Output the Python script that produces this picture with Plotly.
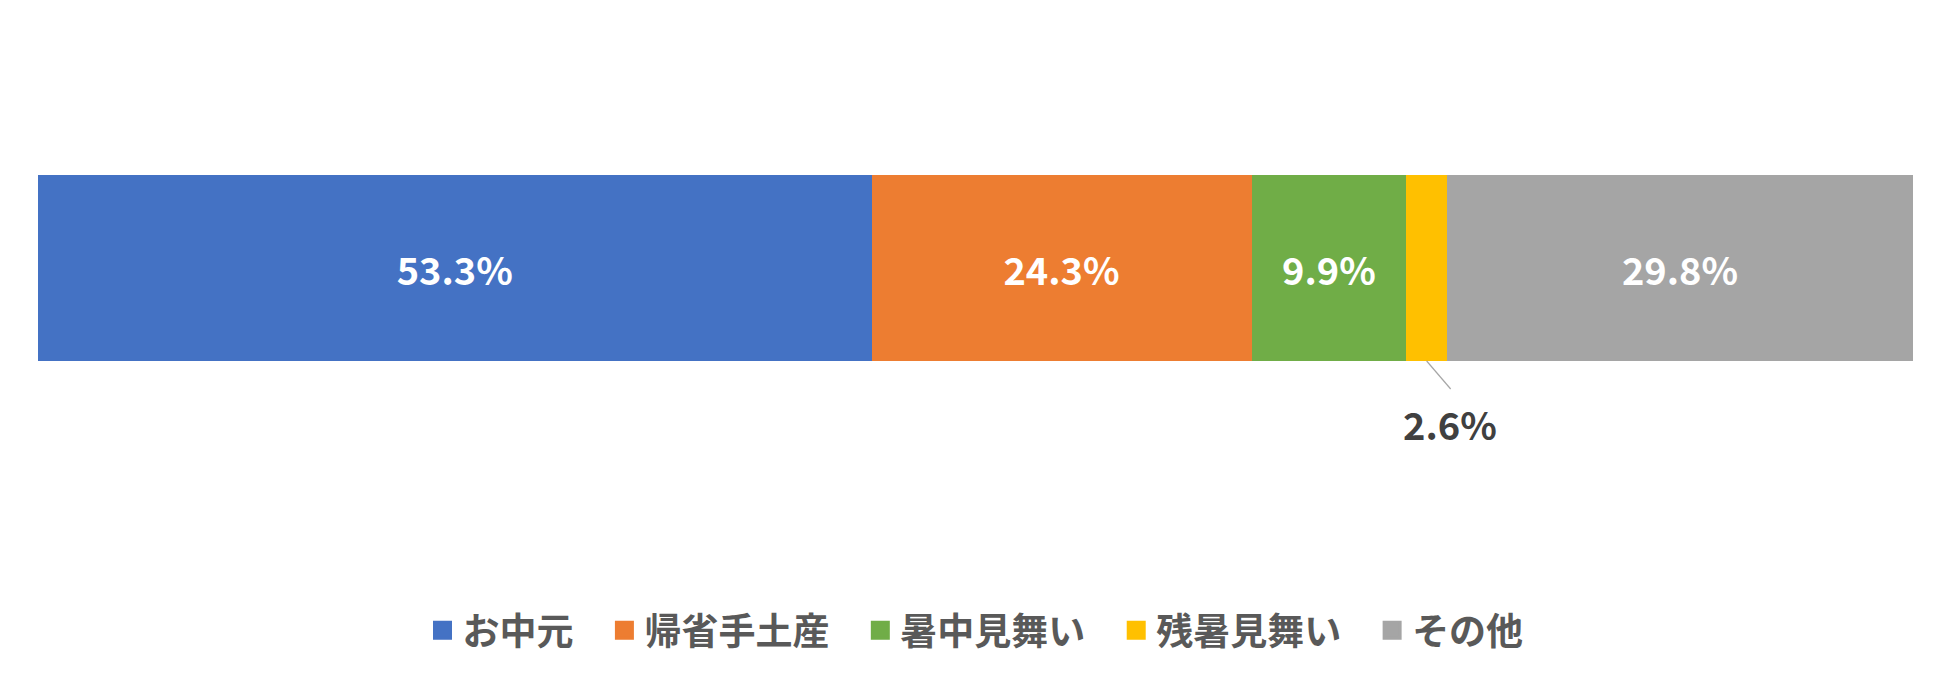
import plotly.graph_objects as go

# お中元・夏の贈り物の種類（複数回答, %）
categories = ["お中元", "帰省手土産", "暑中見舞い", "残暑見舞い", "その他"]
values = [53.3, 24.3, 9.9, 2.6, 29.8]
colors = ["#4472C4", "#ED7D31", "#70AD47", "#FFC000", "#A5A5A5"]

FONT = "Noto Sans CJK JP"
total = sum(values)

fig = go.Figure()

for i, (name, val, col) in enumerate(zip(categories, values, colors)):
    # small segment gets its label outside with a leader line
    inside = val >= 5
    fig.add_trace(go.Bar(
        y=[0], x=[val], orientation="h", width=1,
        marker=dict(color=col, line=dict(width=0)),
        text=[f"{val}%"] if inside else None,
        textposition="inside", insidetextanchor="middle",
        textfont=dict(family=FONT, size=38, color="white", weight="bold"),
        showlegend=False, hoverinfo="skip", name=name,
    ))
    # legend entries as square markers (en + thin space widens the gap between items)
    pad = "\u2002\u2009" if i < len(categories) - 1 else ""
    fig.add_trace(go.Scatter(
        x=[None], y=[None], mode="markers", name=name + pad,
        marker=dict(symbol="square", size=16, color=col,
                    line=dict(color=col, width=3)),
    ))

# label for the narrow segment
small = 3
mid = sum(values[:small]) + values[small] / 2
fig.add_shape(
    type="line", xref="x", yref="paper",
    xsizemode="pixel", xanchor=mid, x0=0, x1=24,
    ysizemode="pixel", yanchor=0, y0=0, y1=-28,
    line=dict(color="#A6A6A6", width=1.2),
)
fig.add_annotation(
    x=mid, y=-0.5, xref="x", yref="y",
    text=f"{values[small]}%", showarrow=False,
    xshift=23, yshift=-62, xanchor="center", yanchor="middle",
    font=dict(family=FONT, size=38, color="#404040", weight="bold"),
)

fig.update_layout(
    width=1950, height=679,
    barmode="stack",
    paper_bgcolor="white", plot_bgcolor="white",
    margin=dict(l=30, r=45, t=167, b=326),
    xaxis=dict(range=[0, total], visible=False, fixedrange=True),
    yaxis=dict(range=[-0.5, 0.5], visible=False, fixedrange=True),
    legend=dict(
        orientation="h", x=0.5, xanchor="center", y=-1.45, yanchor="middle",
        traceorder="normal",
        font=dict(family=FONT, size=37, color="#595959", weight="bold"),
        itemclick=False,
    ),
    font=dict(family=FONT),
)

fig.write_html("out.html")
